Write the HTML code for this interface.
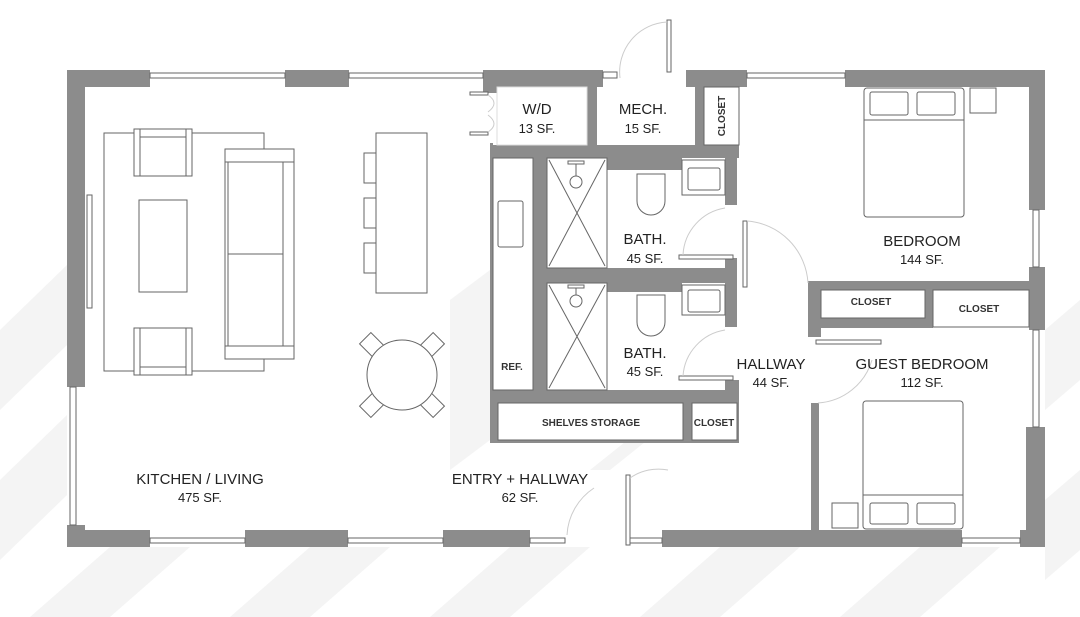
<!DOCTYPE html>
<html><head><meta charset="utf-8"><style>
html,body{margin:0;padding:0;background:#fff;}
svg{display:block}
text{font-family:"Liberation Sans",sans-serif;fill:#222;text-anchor:middle}
.l{font-size:15px}
.s{font-size:13px}
.t{font-size:10px;font-weight:bold;fill:#333}
</style></head><body>
<svg width="1080" height="617" viewBox="0 0 1080 617" xmlns="http://www.w3.org/2000/svg">
<g fill="#f4f4f4">
<polygon points="0,330 67,265 67,345 0,410"/>
<polygon points="0,480 67,415 67,495 0,560"/>
<polygon points="30,617 110,547 190,547 110,617"/>
<polygon points="230,617 310,547 390,547 310,617"/>
<polygon points="430,617 510,547 590,547 510,617"/>
<polygon points="640,617 720,547 800,547 720,617"/>
<polygon points="840,617 920,547 1000,547 920,617"/>
<polygon points="1045,330 1080,300 1080,380 1045,410"/>
<polygon points="1045,500 1080,470 1080,550 1045,580"/>
<polygon points="450,300 490,270 490,440 450,470"/>
<polygon points="590,470 640,430 660,430 610,470"/>
</g>
<g fill="#8c8c8c">
<rect x="67" y="70" width="83" height="17"/>
<rect x="285" y="70" width="64" height="17"/>
<rect x="483" y="70" width="120" height="17"/>
<rect x="686" y="70" width="61" height="17"/>
<rect x="845" y="70" width="200" height="17"/>
<rect x="67" y="70" width="18" height="317"/>
<rect x="67" y="525" width="18" height="22"/>
<rect x="67" y="530" width="83" height="17"/>
<rect x="245" y="530" width="103" height="17"/>
<rect x="443" y="530" width="87" height="17"/>
<rect x="662" y="530" width="300" height="17"/>
<rect x="1020" y="530" width="25" height="17"/>
<rect x="1029" y="70" width="16" height="140"/>
<rect x="1029" y="267" width="16" height="63"/>
<rect x="1026" y="427" width="19" height="120"/>
<rect x="587" y="87" width="10" height="60"/>
<rect x="695" y="87" width="9" height="60"/>
<rect x="493" y="145" width="246" height="13"/>
<rect x="483" y="87" width="14" height="6"/>
<rect x="533" y="145" width="14" height="298"/>
<rect x="490" y="393" width="8" height="50"/>
<rect x="490" y="143" width="3" height="250"/>
<rect x="607" y="145" width="75" height="25"/>
<rect x="725" y="145" width="12" height="60"/>
<rect x="533" y="268" width="204" height="15"/>
<rect x="607" y="283" width="75" height="9"/>
<rect x="725" y="258" width="12" height="69"/>
<rect x="725" y="380" width="14" height="63"/>
<rect x="490" y="390" width="249" height="13"/>
<rect x="683" y="403" width="9" height="40"/>
<rect x="490" y="440" width="249" height="3"/>
<rect x="808" y="281" width="221" height="9"/>
<rect x="808" y="281" width="13" height="56"/>
<rect x="812" y="318" width="121" height="10"/>
<rect x="925" y="281" width="8" height="47"/>
<rect x="811" y="403" width="8" height="127"/>
</g>
<g fill="#fff" stroke="#666" stroke-width="1">
<rect x="150" y="73" width="135" height="5"/>
<rect x="349" y="73" width="134" height="5"/>
<rect x="603" y="72" width="14" height="6"/>
<rect x="747" y="73" width="98" height="5"/>
<rect x="1033" y="210" width="6" height="57"/>
<rect x="1033" y="330" width="6" height="97"/>
<rect x="70" y="387" width="6" height="138"/>
<rect x="150" y="538" width="95" height="5"/>
<rect x="348" y="538" width="95" height="5"/>
<rect x="530" y="538" width="35" height="5"/>
<rect x="630" y="538" width="32" height="5"/>
<rect x="962" y="538" width="58" height="5"/>
<rect x="87" y="195" width="5" height="113"/>
<rect x="667" y="20" width="4" height="52"/>
<rect x="626" y="475" width="4" height="70"/>
<rect x="679" y="255" width="54" height="4"/>
<rect x="679" y="376" width="54" height="4"/>
<rect x="743" y="221" width="4" height="66"/>
<rect x="816" y="340" width="65" height="4"/>
<rect x="470" y="92" width="18" height="3"/>
<rect x="470" y="132" width="18" height="3"/>
<rect x="497" y="87" width="90" height="58" stroke="#ddd"/>
<rect x="704" y="87" width="35" height="58"/>
<rect x="493" y="158" width="40" height="232"/>
<rect x="498" y="201" width="25" height="46" rx="2"/>
<rect x="547" y="158" width="60" height="110"/>
<rect x="547" y="283" width="60" height="107"/>
<rect x="682" y="160" width="43" height="35"/>
<rect x="688" y="168" width="32" height="22" rx="2"/>
<rect x="682" y="285" width="43" height="30"/>
<rect x="688" y="290" width="32" height="22" rx="2"/>
<rect x="498" y="403" width="185" height="37"/>
<rect x="692" y="403" width="45" height="37"/>
<rect x="821" y="290" width="104" height="28"/>
<rect x="933" y="290" width="96" height="37"/>
<path d="M637,174 h28 v27 a14,14 0 0 1 -28,0 z"/>
<path d="M637,295 h28 v27 a14,14 0 0 1 -28,0 z"/>
<circle cx="576" cy="182" r="6"/><circle cx="576" cy="301" r="6"/>
<rect x="568" y="161" width="16" height="3"/><rect x="568" y="285" width="16" height="3"/>
<rect x="864" y="88" width="100" height="129" rx="3"/>
<rect x="870" y="92" width="38" height="23" rx="2"/>
<rect x="917" y="92" width="38" height="23" rx="2"/>
<rect x="970" y="88" width="26" height="25"/>
<rect x="863" y="401" width="100" height="128" rx="3"/>
<rect x="870" y="503" width="38" height="21" rx="2"/>
<rect x="917" y="503" width="38" height="21" rx="2"/>
<rect x="832" y="503" width="26" height="25"/>
<rect x="104" y="133" width="160" height="238"/>
<rect x="134" y="129" width="58" height="47"/>
<rect x="134" y="328" width="58" height="47"/>
<rect x="139" y="200" width="48" height="92"/>
<rect x="225" y="149" width="69" height="210"/>
<rect x="376" y="133" width="51" height="160"/>
<rect x="364" y="153" width="12" height="30"/>
<rect x="364" y="198" width="12" height="30"/>
<rect x="364" y="243" width="12" height="30"/>
<g transform="translate(402,375)">
<rect x="-52" y="-8" width="22" height="16" transform="rotate(-45)"/>
<rect x="30" y="-8" width="22" height="16" transform="rotate(-45)"/>
<rect x="-52" y="-8" width="22" height="16" transform="rotate(45)"/>
<rect x="30" y="-8" width="22" height="16" transform="rotate(45)"/>
<circle r="35"/>
</g>
</g>
<g fill="none" stroke="#666" stroke-width="1">
<line x1="140" y1="129" x2="140" y2="176"/><line x1="186" y1="129" x2="186" y2="176"/><line x1="140" y1="137" x2="186" y2="137"/>
<line x1="140" y1="328" x2="140" y2="375"/><line x1="186" y1="328" x2="186" y2="375"/><line x1="140" y1="367" x2="186" y2="367"/>
<line x1="225" y1="162" x2="294" y2="162"/><line x1="225" y1="346" x2="294" y2="346"/>
<line x1="283" y1="162" x2="283" y2="346"/><line x1="228" y1="162" x2="228" y2="346"/><line x1="228" y1="254" x2="283" y2="254"/>
<line x1="549" y1="160" x2="605" y2="266"/><line x1="605" y1="160" x2="549" y2="266"/>
<line x1="549" y1="285" x2="605" y2="388"/><line x1="605" y1="285" x2="549" y2="388"/>
<line x1="864" y1="120" x2="964" y2="120"/><line x1="863" y1="495" x2="963" y2="495"/>
<line x1="576" y1="164" x2="576" y2="176"/><line x1="576" y1="288" x2="576" y2="295"/>
</g>
<g fill="none" stroke="#ccc" stroke-width="1">
<path d="M620,78 A50,50 0 0 1 667,22"/>
<path d="M683,255 A50,50 0 0 1 725,208"/>
<path d="M683,376 A50,50 0 0 1 725,330"/>
<path d="M747,221 A66,66 0 0 1 808,283"/>
<path d="M818,403 A60,60 0 0 0 872,360"/>
<path d="M567,535 A60,60 0 0 1 594,488"/>
<path d="M630,478 A50,50 0 0 1 668,470"/>
<path d="M488,95 q12,8 0,17 M488,132 q12,-8 0,-17"/>
</g>
<text class="l" x="537" y="114">W/D</text><text class="s" x="537" y="133">13 SF.</text>
<text class="l" x="643" y="114">MECH.</text><text class="s" x="643" y="133">15 SF.</text>
<text class="t" transform="translate(725,116) rotate(-90)">CLOSET</text>
<text class="l" x="645" y="244">BATH.</text><text class="s" x="645" y="263">45 SF.</text>
<text class="l" x="645" y="358">BATH.</text><text class="s" x="645" y="376">45 SF.</text>
<text class="l" x="922" y="246">BEDROOM</text><text class="s" x="922" y="264">144 SF.</text>
<text class="t" x="871" y="305">CLOSET</text><text class="t" x="979" y="312">CLOSET</text>
<text class="l" x="771" y="369">HALLWAY</text><text class="s" x="771" y="387">44 SF.</text>
<text class="l" x="922" y="369">GUEST BEDROOM</text><text class="s" x="922" y="387">112 SF.</text>
<text class="t" x="512" y="370">REF.</text>
<text class="t" x="591" y="426">SHELVES STORAGE</text><text class="t" x="714" y="426">CLOSET</text>
<text class="l" x="200" y="484">KITCHEN / LIVING</text><text class="s" x="200" y="502">475 SF.</text>
<text class="l" x="520" y="484">ENTRY + HALLWAY</text><text class="s" x="520" y="502">62 SF.</text>
</svg>
</body></html>
